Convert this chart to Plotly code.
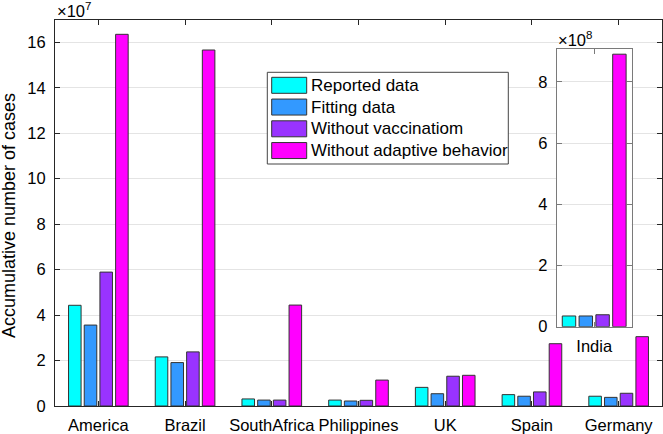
import plotly.graph_objects as go

# ---------------- data ----------------
countries = ["America", "Brazil", "SouthAfrica", "Philippines", "UK", "Spain", "Germany"]
series_names = ["Reported data", "Fitting data", "Without vaccinatiom", "Without adaptive behavior"]
colors = ["#00FFFF", "#3399FF", "#9933FF", "#FF00FF"]

# accumulative cases (main panel), absolute counts
reported = [44.3e6, 21.6e6, 3.1e6, 2.6e6, 8.2e6, 5.0e6, 4.3e6]
fitting = [35.6e6, 19.1e6, 2.6e6, 2.2e6, 5.4e6, 4.3e6, 3.8e6]
no_vacc = [58.9e6, 23.8e6, 2.6e6, 2.5e6, 13.1e6, 6.2e6, 5.6e6]
no_adapt = [163.5e6, 156.6e6, 44.4e6, 11.4e6, 13.5e6, 27.4e6, 30.5e6]

# India (inset), absolute counts
india_label = ["India"]
india_values = [35e6, 35e6, 39e6, 890e6]

main_series = [reported, fitting, no_vacc, no_adapt]
MAIN_SCALE = 1e7
INSET_SCALE = 1e8

# ---------------- geometry helpers ----------------
W, H = 663, 434
L, R, T, B = 55, 1, 20, 28
PW, PH = W - L - R, H - T - B


def px2x(px):
    return (px - L) / PW


def px2y(py):
    return (T + PH - py) / PH


FONT = "Liberation Sans, Arial, Helvetica, sans-serif"
AX_COL = "#262626"
INSET_COL = "#7a7a7a"
GRID_COL = "#e4e4e4"
EDGE = "#333333"

fig = go.Figure()

xpos = list(range(1, len(countries) + 1))
for name, vals, col in zip(series_names, main_series, colors):
    fig.add_trace(go.Bar(
        x=xpos, y=[v / MAIN_SCALE for v in vals], name=name,
        marker=dict(color=col, line=dict(color=EDGE, width=1)),
        xaxis="x", yaxis="y", showlegend=False,
    ))

for name, val, col in zip(series_names, india_values, colors):
    fig.add_trace(go.Bar(
        x=[1], y=[val / INSET_SCALE], name=name,
        marker=dict(color=col, line=dict(color=EDGE, width=1)),
        xaxis="x2", yaxis="y2", showlegend=False,
    ))

tickfont = dict(family=FONT, size=16.5, color="#000000")

fig.update_layout(
    width=W, height=H,
    margin=dict(l=L, r=R, t=T, b=B),
    paper_bgcolor="white", plot_bgcolor="white",
    barmode="group", bargap=0.276, bargroupgap=0.2,
    font=dict(family=FONT, size=16, color="#000000"),
    xaxis=dict(
        domain=[0, 1], range=[0.5, 7.5],
        tickvals=xpos, ticktext=countries,
        ticks="inside", ticklen=5, tickcolor=AX_COL, ticklabelstandoff=4,
        showline=True, linecolor=AX_COL, linewidth=1, mirror="ticks",
        showgrid=False, zeroline=False, tickfont=tickfont,
    ),
    yaxis=dict(
        domain=[0, 1], range=[0, 16.98],
        tickvals=list(range(0, 17, 2)),
        ticks="inside", ticklen=5, tickcolor=AX_COL, ticklabelstandoff=5,
        showline=True, linecolor=AX_COL, linewidth=1, mirror="ticks",
        showgrid=True, gridcolor=GRID_COL, gridwidth=1, zeroline=False,
        tickfont=tickfont,
    ),
    xaxis2=dict(
        domain=[px2x(556.7), px2x(631.7)], range=[0.596, 1.404], anchor="y2",
        tickvals=[1], ticktext=india_label,
        ticks="inside", ticklen=5, tickcolor=INSET_COL, ticklabelstandoff=4,
        showline=True, linecolor=INSET_COL, linewidth=1, mirror="ticks",
        showgrid=False, zeroline=False, tickfont=tickfont,
    ),
    yaxis2=dict(
        domain=[px2y(326.7), px2y(49)], range=[0, 9.07], anchor="x2",
        tickvals=list(range(0, 9, 2)),
        ticks="inside", ticklen=5, tickcolor=INSET_COL, ticklabelstandoff=5,
        showline=True, linecolor=INSET_COL, linewidth=1, mirror="ticks",
        showgrid=True, gridcolor=GRID_COL, gridwidth=1, zeroline=False,
        tickfont=tickfont,
    ),
)

annotations = [
    dict(text="×10<sup>7</sup>", xref="paper", yref="paper", x=px2x(55), y=px2y(22),
         xanchor="left", yanchor="bottom", showarrow=False,
         font=dict(family=FONT, size=16.5, color="#000000")),
    dict(text="×10<sup>8</sup>", xref="paper", yref="paper", x=px2x(556), y=px2y(51),
         xanchor="left", yanchor="bottom", showarrow=False,
         font=dict(family=FONT, size=16.5, color="#000000")),
    dict(text="Accumulative number of cases", xref="paper", yref="paper",
         x=px2x(9), y=px2y(216), textangle=-90, xanchor="center", yanchor="middle",
         showarrow=False, font=dict(family=FONT, size=18, color="#000000")),
]

# legend (drawn as shapes + text)
shapes = [dict(type="rect", xref="paper", yref="paper",
               x0=px2x(267.3), x1=px2x(508.3), y0=px2y(164), y1=px2y(72.3),
               fillcolor="white", line=dict(color="#444444", width=1), layer="above")]
for i, (name, col) in enumerate(zip(series_names, colors)):
    cy = 85.3 + i * 21.75
    shapes.append(dict(type="rect", xref="paper", yref="paper",
                       x0=px2x(271.7), x1=px2x(306.7), y0=px2y(cy + 8), y1=px2y(cy - 8),
                       fillcolor=col, line=dict(color=EDGE, width=1), layer="above"))
    annotations.append(dict(text=name, xref="paper", yref="paper",
                            x=px2x(309), y=px2y(cy), xanchor="left", yanchor="middle",
                            showarrow=False, font=dict(family=FONT, size=17, color="#000000")))

fig.update_layout(shapes=shapes, annotations=annotations)

fig.write_html("out.html", post_script="document.body.style.margin='0';",
               config={"displayModeBar": False})
